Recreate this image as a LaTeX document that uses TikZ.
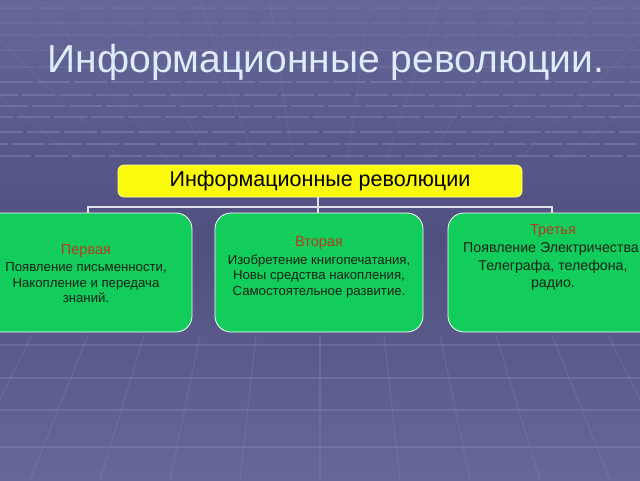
\documentclass[tikz,border=0pt]{standalone}
\usepackage{fontspec}
\setmainfont{Liberation Sans}
\usetikzlibrary{positioning}
\definecolor{bgtop}{RGB}{102,102,152}
\definecolor{bgmid}{RGB}{80,80,128}
\definecolor{bgbot}{RGB}{104,104,152}
\definecolor{gridc}{RGB}{138,138,185}
\definecolor{boxgreen}{RGB}{18,204,92}
\definecolor{topyellow}{RGB}{250,250,10}
\definecolor{headred}{RGB}{180,60,30}
\definecolor{bodytxt}{RGB}{20,35,25}
\definecolor{titlec}{RGB}{222,236,255}
\definecolor{linkc}{RGB}{225,225,235}
\tikzset{
  greenbox/.style={draw=white, line width=0.8pt, fill=boxgreen, rounded corners=16pt,
    minimum width=208pt, minimum height=119pt, inner sep=0pt},
  topbox/.style={draw=white!60!topyellow, line width=0.8pt, fill=topyellow, rounded corners=6pt,
    minimum width=404pt, minimum height=32pt, inner sep=0pt,
    font=\fontsize{21.5}{24}\selectfont, text=black},
  bodytext/.style={align=center, font=\fontsize{13.2}{15.3}\selectfont, text=bodytxt, inner sep=0pt},
  bodytextb/.style={align=center, font=\fontsize{14.2}{17.5}\selectfont, text=bodytxt, inner sep=0pt},
  headtext/.style={font=\fontsize{14.5}{16}\selectfont, text=headred, inner sep=0pt},
  link/.style={draw=linkc, line width=1.6pt},
  gridline/.style={draw=gridc, line width=1.1pt, opacity=0.45}
}
\begin{document}
\begin{tikzpicture}[x=1pt,y=-1pt]
\useasboundingbox (0,0) rectangle (640,480);
% background
\shade[top color=bgtop, bottom color=bgmid] (0,0) rectangle (640,240);
\shade[top color=bgmid, bottom color=bgbot] (0,240) rectangle (640,480);
% ceiling grid: dashed rows
\foreach \yy/\ph in {82/0,95/15,106/5,117/20,132/10,144/25,156/2} {
  \draw[gridline, dash pattern=on 33pt off 4pt, dash phase=\ph pt] (0,\yy) -- (640,\yy);
}
\foreach \yy in {8,23,35,50,67} {
  \draw[gridline, opacity=0.2, dash pattern=on 33pt off 4pt] (0,\yy) -- (640,\yy);
}
% ceiling diagonals
\foreach \xx in {-120,-40,40,120,200,270,370,440,520,600,680,760} {
  \draw[gridline, opacity=0.15] (\xx,0) -- ({320+0.55*(\xx-320)},160);
}
% floor grid
\foreach \yy in {345,378,410,447} {
  \draw[gridline, opacity=0.35] (0,\yy) -- (640,\yy);
}
\foreach \xx in {-140,-82,-25,32,88,144,200,256,320,384,440,496,552,608,665,722} {
  \draw[gridline, opacity=0.3] (\xx,335) -- ({320+1.25*(\xx-320)},480);
}
% title
\node[text=titlec, font=\fontsize{39}{44}\selectfont] (title) at (326,62) {Информационные революции.};
% top box
\node[topbox] (top) at (320,181) {Информационные революции};
% green boxes
\node[greenbox] (b1) at (88,272.5) {};
\node[greenbox] (b2) at (319,272.5) {};
\node[greenbox] (b3) at (552,272.5) {};
% connectors
\coordinate (hub) at (318,207);
\draw[link] (top.south -| hub) -- (hub);
\draw[link] (b1.north) |- (hub);
\draw[link] (b3.north) |- (hub);
\draw[link] (hub) -- (b2.north -| hub);
% texts
\node[headtext] (h1) at (86,251) {Первая};
\node[bodytext, below=5pt of h1] (t1) {Появление письменности,\\Накопление и передача\\знаний.};
\node[headtext] (h2) at (319,243) {Вторая};
\node[bodytext, below=5pt of h2] (t2) {Изобретение книгопечатания,\\Новы средства накопления,\\Самостоятельное развитие.};
\node[headtext] (h3) at (553,231) {Третья};
\node[bodytextb, below=5pt of h3] (t3) {Появление Электричества,\\Телеграфа, телефона,\\радио.};
\end{tikzpicture}
\end{document}
